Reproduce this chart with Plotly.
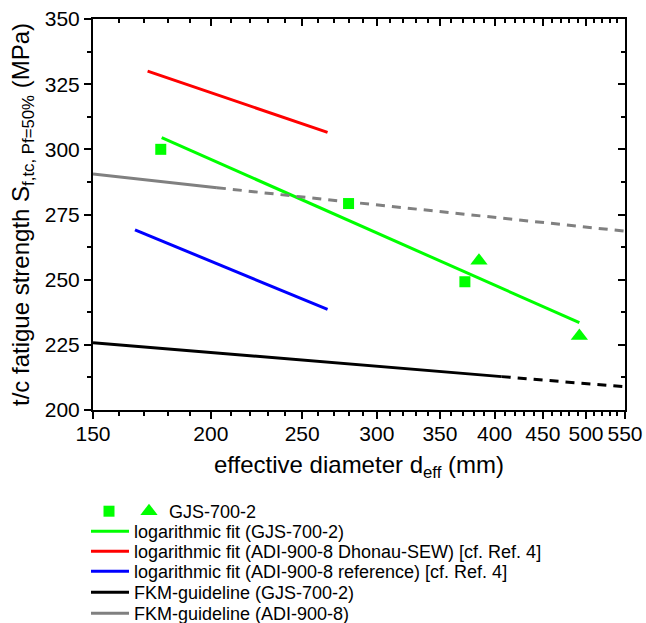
import math
import plotly.graph_objects as go

# ---- data ----
sq_x = [177, 280, 372]
sq_y = [300.0, 279.2, 249.2]
tri_x = [385, 492]
tri_y = [257.3, 228.4]

fit_gjs_x = [177.4, 492]
fit_gjs_y = [304.5, 233.5]
fit_red_x = [171.4, 266]
fit_red_y = [330.0, 306.5]
fit_blue_x = [166.2, 266]
fit_blue_y = [269.1, 238.6]

fkm_gjs_x = [150, 267.5, 407]
fkm_gjs_y = [225.8, 218.2, 212.8]
fkm_gjs_ext_x = [407, 550]
fkm_gjs_ext_y = [212.8, 208.9]

fkm_adi_x = [150, 203]
fkm_adi_y = [290.5, 285.3]
fkm_adi_ext_x = [203, 248.7, 550]
fkm_adi_ext_y = [285.3, 281.8, 268.6]

x_ticks = [150, 200, 250, 300, 350, 400, 450, 500, 550]
x_minor = [v for v in range(160, 550, 10) if v % 50 != 0]
y_ticks = [200, 225, 250, 275, 300, 325, 350]
y_minor = [212.5, 237.5, 262.5, 287.5, 312.5, 337.5]

GREEN = "#00ff00"
FONT = "Liberation Sans, Arial, sans-serif"

# plot area in pixels (for legend placement)
W, H = 646, 623
ML, MR, MT, MB = 93, 21, 19, 213
PW, PH = W - ML - MR, H - MT - MB

def px_to_paper_x(px):
    return (px - ML) / PW

def px_to_paper_y(py):
    return 1 - (py - MT) / PH

fig = go.Figure()

def line(x, y, color, name=None, dash="solid", show=True, legend="legend"):
    fig.add_trace(go.Scatter(x=x, y=y, mode="lines", name=name,
                             line=dict(color=color, width=3, dash=dash),
                             showlegend=show, legend=legend, hoverinfo="skip"))

line(fit_gjs_x, fit_gjs_y, GREEN, "logarithmic fit (GJS-700-2)", legend="legend")
line(fit_red_x, fit_red_y, "#ff0000", "logarithmic fit (ADI-900-8 Dhonau-SEW) [cf. Ref. 4]", legend="legend3")
line(fit_blue_x, fit_blue_y, "#0000ff", "logarithmic fit (ADI-900-8 reference) [cf. Ref. 4]", legend="legend4")
line(fkm_gjs_x, fkm_gjs_y, "#000000", "FKM-guideline (GJS-700-2)", legend="legend5")
line(fkm_adi_x, fkm_adi_y, "#808080", "FKM-guideline (ADI-900-8)", legend="legend6")
line(fkm_gjs_ext_x, fkm_gjs_ext_y, "#000000", dash="9px,7px", show=False)
line(fkm_adi_ext_x, fkm_adi_ext_y, "#808080", dash="9px,7px", show=False)

fig.add_trace(go.Scatter(x=sq_x, y=sq_y, mode="markers", name="",
                         marker=dict(symbol="square", size=11, color=GREEN),
                         legend="legend2"))
fig.add_trace(go.Scatter(x=tri_x, y=tri_y, mode="markers", name="GJS-700-2",
                         marker=dict(symbol="triangle-up", size=15, color=GREEN),
                         legend="legend7"))

# helper trace for the mirrored (top/right) axes
fig.add_trace(go.Scatter(x=[], y=[], xaxis="x2", yaxis="y2", showlegend=False))

xr = [math.log10(150), math.log10(550)]
yr = [200, 350]

def leg(left_px, top_px, itemwidth=30):
    return dict(x=px_to_paper_x(left_px), xanchor="left",
                y=px_to_paper_y(top_px), yanchor="top", orientation="v",
                font=dict(size=18), bgcolor="rgba(0,0,0,0)", itemwidth=itemwidth)

row_centers = [530, 550, 570, 591, 612]
OFF = 17

fig.update_layout(
    width=W, height=H,
    margin=dict(l=ML, r=MR, t=MT, b=MB, autoexpand=False),
    paper_bgcolor="white", plot_bgcolor="white",
    font=dict(family=FONT, color="black", size=16),
    xaxis=dict(type="log", range=xr, tickvals=x_ticks, ticktext=[str(v) for v in x_ticks],
               ticks="outside", ticklen=7, tickwidth=2, tickcolor="black",
               ticklabelstandoff=-3,
               minor=dict(tickvals=x_minor, ticks="outside", ticklen=4, tickwidth=2, tickcolor="black"),
               showline=True, linewidth=2, linecolor="black", mirror=True,
               showgrid=False, zeroline=False,
               tickfont=dict(size=21),
               title=dict(text="effective diameter d<sub>eff</sub> (mm)", font=dict(size=24), standoff=12)),
    yaxis=dict(range=yr, tickvals=y_ticks,
               ticks="outside", ticklen=7, tickwidth=2, tickcolor="black",
               minor=dict(tickvals=y_minor, ticks="outside", ticklen=4, tickwidth=2, tickcolor="black"),
               showline=True, linewidth=2, linecolor="black", mirror=True,
               showgrid=False, zeroline=False,
               tickfont=dict(size=21),
               title=dict(text="t/c fatigue strength S<sub>f,tc, Pf=50%</sub> (MPa)", font=dict(size=24), standoff=8)),
    xaxis2=dict(type="log", range=xr, overlaying="x", side="top", tickvals=x_ticks,
                showticklabels=False, ticks="inside", ticklen=7, tickwidth=2, tickcolor="black",
                minor=dict(tickvals=x_minor, ticks="inside", ticklen=4, tickwidth=2, tickcolor="black"),
                showline=False, showgrid=False, zeroline=False),
    yaxis2=dict(range=yr, overlaying="y", side="right", tickvals=y_ticks,
                showticklabels=False, ticks="inside", ticklen=7, tickwidth=2, tickcolor="black",
                minor=dict(tickvals=y_minor, ticks="inside", ticklen=4, tickwidth=2, tickcolor="black"),
                showline=False, showgrid=False, zeroline=False),
    legend=leg(86, row_centers[0] - OFF, 38),
    legend3=leg(86, row_centers[1] - OFF, 38),
    legend4=leg(86, row_centers[2] - OFF, 38),
    legend5=leg(86, row_centers[3] - OFF, 38),
    legend6=leg(86, row_centers[4] - OFF, 38),
    legend2=leg(89, 510 - OFF),
    legend7=leg(129, 510 - OFF),
    showlegend=True,
)

fig.write_html("out.html", config={"displayModeBar": False},
               post_script="document.body.style.margin='0';")
